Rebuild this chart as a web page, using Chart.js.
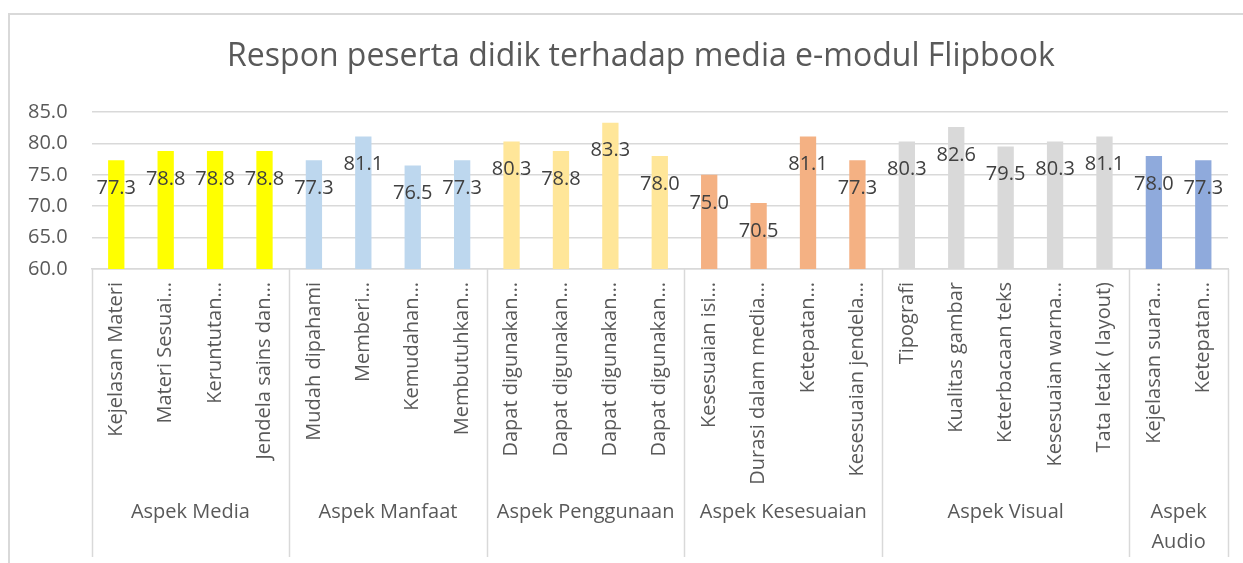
<!DOCTYPE html>
<html>
<head>
<meta charset="utf-8">
<script src="https://cdn.jsdelivr.net/npm/chart.js@4.4.1/dist/chart.umd.min.js"></script>
<style>
  html, body { margin: 0; padding: 0; background: #fff; }
  #wrap { width: 1243px; height: 563px; position: relative; }
</style>
</head>
<body>
<div id="wrap"><canvas id="respChart"></canvas></div>
<script>
// data
var categories = [
  "Kejelasan Materi", "Materi Sesuai…", "Keruntutan…", "Jendela sains dan…",
  "Mudah dipahami", "Memberi…", "Kemudahan…", "Membutuhkan…",
  "Dapat digunakan…", "Dapat digunakan…", "Dapat digunakan…", "Dapat digunakan…",
  "Kesesuaian isi…", "Durasi dalam media…", "Ketepatan…", "Kesesuaian jendela…",
  "Tipografi", "Kualitas gambar", "Keterbacaan teks", "Kesesuaian warna…", "Tata letak ( layout)",
  "Kejelasan suara…", "Ketepatan…"
];
var values = [
  77.3, 78.8, 78.8, 78.8,
  77.3, 81.1, 76.5, 77.3,
  80.3, 78.8, 83.3, 78.0,
  75.0, 70.5, 81.1, 77.3,
  80.3, 82.6, 79.5, 80.3, 81.1,
  78.0, 77.3
];
var groupNames = [["Aspek Media"], ["Aspek Manfaat"], ["Aspek Penggunaan"], ["Aspek Kesesuaian"], ["Aspek Visual"], ["Aspek", "Audio"]];
var groupSizes = [4, 4, 4, 4, 5, 2];
var groupColors = ['#FFFF00', '#BDD7EE', '#FFE699', '#F4B183', '#D9D9D9', '#8FAADC'];
var yTicks = [60, 65, 70, 75, 80, 85];
var title = 'Respon peserta didik terhadap media e-modul Flipbook';

var barColors = [];
groupSizes.forEach(function (n, g) {
  for (var i = 0; i < n; i++) barColors.push(groupColors[g]);
});

var FONT = "'Open Sans', sans-serif";
var GRID = '#D9D9D9';

// outer frame of the chart box + title (centred on the frame, not the plot)
var framePlugin = {
  id: 'frame',
  beforeDraw: function (chart) {
    var c = chart.ctx;
    c.save();
    c.strokeStyle = GRID;
    c.lineWidth = 2;
    c.beginPath();
    c.moveTo(9, 563);
    c.lineTo(9, 14);
    c.lineTo(1243, 14);
    c.stroke();
    c.font = '32px ' + FONT;
    c.fillStyle = '#595959';
    c.textAlign = 'center';
    c.textBaseline = 'middle';
    c.fillText(title, 641, 57);
    c.restore();
  }
};

// value labels a bit below the top of each bar
var valuePlugin = {
  id: 'values',
  afterDatasetsDraw: function (chart) {
    var c = chart.ctx;
    var meta = chart.getDatasetMeta(0);
    c.save();
    c.font = '20px ' + FONT;
    c.fillStyle = '#404040';
    c.textAlign = 'center';
    c.textBaseline = 'middle';
    meta.data.forEach(function (bar, i) {
      c.fillText(values[i].toFixed(1), bar.x, bar.y + 28);
    });
    c.restore();
  }
};

// second row of the category axis: group separators and names
var groupPlugin = {
  id: 'groups',
  afterDraw: function (chart) {
    var x = chart.scales.x;
    var c = chart.ctx;
    var top = chart.chartArea.bottom;
    var bottom = 557;
    c.save();
    c.strokeStyle = GRID;
    c.lineWidth = 1.5;
    c.font = '20px ' + FONT;
    c.fillStyle = '#595959';
    c.textAlign = 'center';
    c.textBaseline = 'middle';
    var start = 0;
    var edges = [x.left];
    groupSizes.forEach(function (n, g) {
      var end = start + n - 1;
      var right = (end === categories.length - 1) ? x.right
        : (x.getPixelForValue(end) + x.getPixelForValue(end + 1)) / 2;
      edges.push(right);
      var left = edges[g];
      groupNames[g].forEach(function (t, k) {
        c.fillText(t, (left + right) / 2, 512 + k * 30);
      });
      start += n;
    });
    edges.forEach(function (ex) {
      c.beginPath();
      c.moveTo(Math.round(ex) + 0.5, top);
      c.lineTo(Math.round(ex) + 0.5, bottom);
      c.stroke();
    });
    c.restore();
  }
};

new Chart(document.getElementById('respChart'), {
  type: 'bar',
  data: {
    labels: categories,
    datasets: [{
      data: values,
      backgroundColor: barColors,
      borderWidth: 0,
      categoryPercentage: 1,
      barPercentage: 0.33
    }]
  },
  options: {
    responsive: true,
    maintainAspectRatio: false,
    animation: false,
    layout: {
      padding: { left: 4, right: 15, top: 112, bottom: 72 }
    },
    plugins: {
      legend: { display: false },
      tooltip: { enabled: false },
      title: { display: false }
    },
    scales: {
      x: {
        grid: { display: false, drawTicks: false },
        border: { display: true, color: GRID, width: 1.5 },
        afterFit: function (axis) { axis.height = 222; },
        ticks: {
          autoSkip: false,
          minRotation: 90,
          maxRotation: 90,
          padding: 13,
          color: '#595959',
          font: { family: FONT, size: 20 }
        }
      },
      y: {
        min: 60,
        max: 85,
        afterBuildTicks: function (axis) {
          axis.ticks = yTicks.map(function (v) { return { value: v }; });
        },
        grid: { color: GRID, lineWidth: 1.5, drawTicks: false },
        border: { display: false },
        ticks: {
          padding: 24,
          color: '#595959',
          font: { family: FONT, size: 20 },
          callback: function (v) { return Number(v).toFixed(1); }
        }
      }
    }
  },
  plugins: [framePlugin, valuePlugin, groupPlugin]
});
</script>
</body>
</html>
